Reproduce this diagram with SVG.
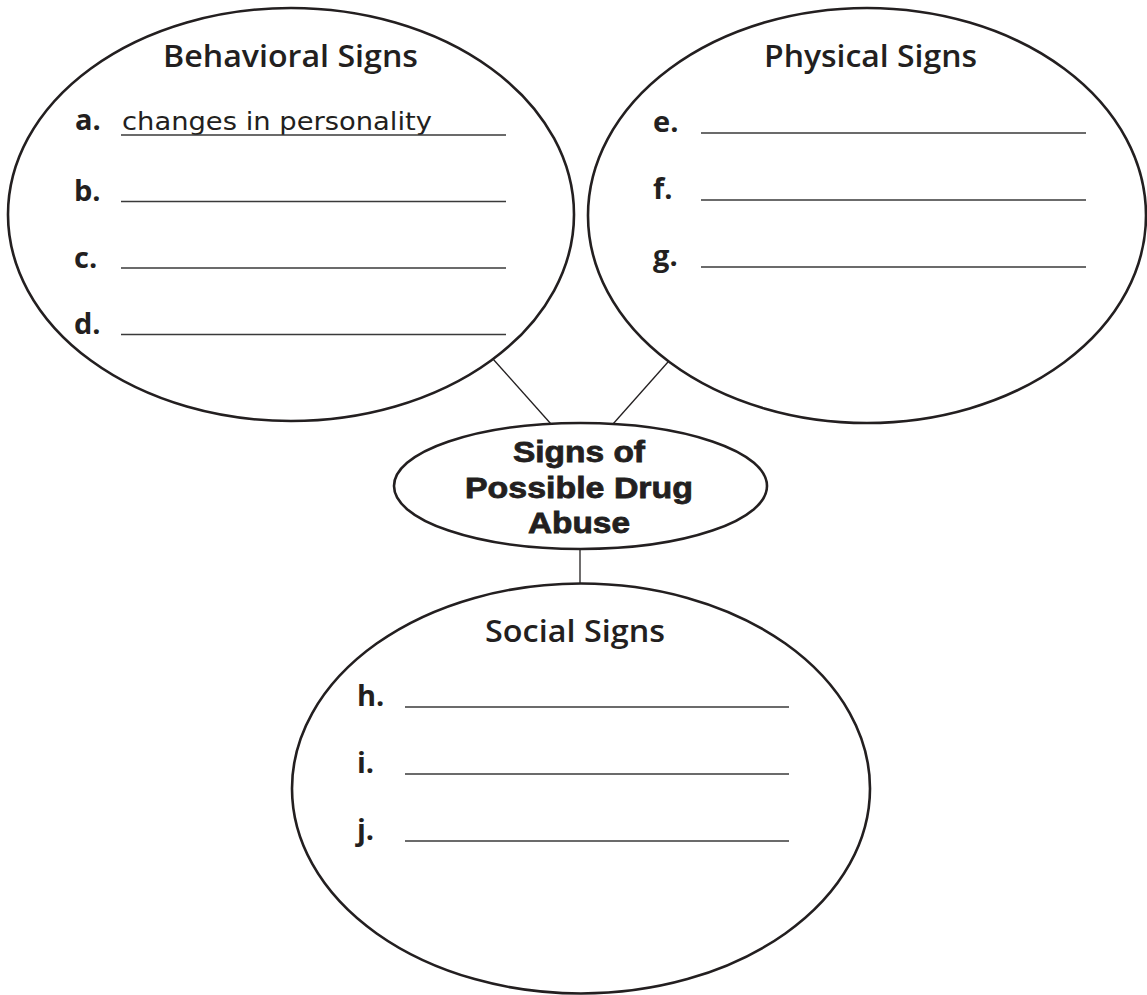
<svg xmlns="http://www.w3.org/2000/svg" width="1147" height="995" viewBox="0 0 1147 995">
<style>
.bubble{fill:#fff;stroke:#231f20;stroke-width:2.6}
.conn{stroke:#231f20;stroke-width:1.3;fill:none}
.rule{stroke:#3a3a3a;stroke-width:1.6}
.title{font-family:"Open Sans","Liberation Sans",sans-serif;font-weight:600;font-size:30px;fill:#231f20;text-anchor:middle}
.lbl{font-family:"Open Sans","Liberation Sans",sans-serif;font-weight:700;font-size:29px;fill:#231f20}
.hand{font-family:"DejaVu Sans","Liberation Sans",sans-serif;font-size:25px;fill:#231f20}
.center{font-family:"Liberation Sans","Open Sans",sans-serif;font-weight:700;font-size:30px;fill:#231f20;stroke:#231f20;stroke-width:0.8;text-anchor:middle}
</style>
<rect width="1147" height="995" fill="#fff"/>
<g id="connectors">
<line class="conn" x1="493" y1="359" x2="551" y2="424"/>
<line class="conn" x1="668" y1="362" x2="613" y2="424"/>
<line class="conn" x1="580" y1="549" x2="580" y2="584"/>
</g>
<g id="behavioral">
<ellipse class="bubble" cx="291" cy="214.5" rx="283" ry="206.5"/>
<text class="title" x="290.5" y="67" textLength="255" lengthAdjust="spacingAndGlyphs">Behavioral Signs</text>
<text class="lbl" x="75" y="130">a.</text>
<text class="hand" x="122" y="130" textLength="310" lengthAdjust="spacingAndGlyphs">changes in personality</text>
<line class="rule" x1="121" y1="135" x2="506" y2="135"/>
<text class="lbl" x="74" y="201">b.</text>
<line class="rule" x1="121" y1="201.5" x2="506" y2="201.5"/>
<text class="lbl" x="74" y="268">c.</text>
<line class="rule" x1="121" y1="268" x2="506" y2="268"/>
<text class="lbl" x="74" y="334">d.</text>
<line class="rule" x1="121" y1="334.5" x2="506" y2="334.5"/>
</g>
<g id="physical">
<ellipse class="bubble" cx="867" cy="215.5" rx="279" ry="207.5"/>
<text class="title" x="870.5" y="67" textLength="213" lengthAdjust="spacingAndGlyphs">Physical Signs</text>
<text class="lbl" x="653" y="132">e.</text>
<line class="rule" x1="701" y1="133" x2="1086" y2="133"/>
<text class="lbl" x="653" y="199">f.</text>
<line class="rule" x1="701" y1="200" x2="1086" y2="200"/>
<text class="lbl" x="653" y="266">g.</text>
<line class="rule" x1="701" y1="267" x2="1086" y2="267"/>
</g>
<g id="center">
<ellipse class="bubble" cx="580.5" cy="486" rx="186.5" ry="63"/>
<text class="center" x="579" y="462" textLength="132" lengthAdjust="spacingAndGlyphs">Signs of</text>
<text class="center" x="579" y="497.5" textLength="228" lengthAdjust="spacingAndGlyphs">Possible Drug</text>
<text class="center" x="579" y="533" textLength="102" lengthAdjust="spacingAndGlyphs">Abuse</text>
</g>
<g id="social">
<ellipse class="bubble" cx="581" cy="788.5" rx="289" ry="205"/>
<text class="title" x="575" y="642" textLength="180" lengthAdjust="spacingAndGlyphs">Social Signs</text>
<text class="lbl" x="357" y="706">h.</text>
<line class="rule" x1="405" y1="707" x2="789" y2="707"/>
<text class="lbl" x="357" y="773">i.</text>
<line class="rule" x1="405" y1="774" x2="789" y2="774"/>
<text class="lbl" x="357" y="840">j.</text>
<line class="rule" x1="405" y1="841" x2="789" y2="841"/>
</g>
</svg>
